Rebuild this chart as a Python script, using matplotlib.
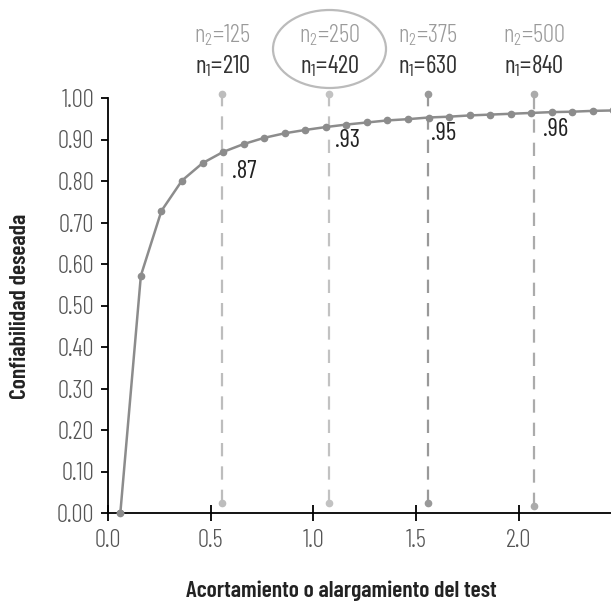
import matplotlib.pyplot as plt
from matplotlib.patches import Ellipse

plt.rcParams['font.family'] = ['Barlow Condensed', 'Liberation Sans', 'DejaVu Sans']
plt.rcParams['font.weight'] = 300
plt.rcParams['mathtext.default'] = 'regular'

# curve points
curve_x = [0.06, 0.16, 0.26, 0.36, 0.46, 0.56, 0.66, 0.76, 0.86, 0.96,
           1.06, 1.16, 1.26, 1.36, 1.46, 1.56, 1.66, 1.76, 1.86, 1.96,
           2.06, 2.16, 2.26, 2.36, 2.46, 2.56]
curve_y = [0.000, 0.572, 0.728, 0.801, 0.843, 0.870, 0.889, 0.904, 0.915, 0.923,
           0.930, 0.936, 0.941, 0.946, 0.949, 0.953, 0.955, 0.958, 0.960, 0.962,
           0.964, 0.966, 0.967, 0.969, 0.970, 0.971]

# reference lines
ref_x = [0.557, 1.077, 1.556, 2.074]
ref_bottom = [0.025, 0.025, 0.025, 0.017]
ref_top = [1.01, 1.01, 1.01, 1.01]
ref_colors = ['#bdbdbd', '#c2c2c2', '#999999', '#ababab']
n2_labels = ['125', '250', '375', '500']
n1_labels = ['210', '420', '630', '840']
value_labels = ['.87', '.93', '.95', '.96']
value_pos = [(0.603, 0.824), (1.105, 0.898), (1.572, 0.915), (2.115, 0.923)]

fig = plt.figure(figsize=(6.11, 6.03), dpi=100)
ax = fig.add_axes([108 / 611, 90 / 603, 503 / 611, 415 / 603])

for x, b, t, c in zip(ref_x, ref_bottom, ref_top, ref_colors):
    ax.plot([x, x], [b, t], color=c, lw=1.6, linestyle=(0, (6, 4.5)), zorder=1, clip_on=False)
    ax.plot([x, x], [b, t], 'o', color=c, ms=4.5, zorder=1, clip_on=False)

ax.plot(curve_x, curve_y, '-o', color='#8c8c8c', lw=1.8, ms=4.5, zorder=3, clip_on=True)
ax.plot(curve_x[0], curve_y[0], 'o', color='#8c8c8c', ms=4.5, zorder=4, clip_on=False)

for x, n2, n1 in zip(ref_x, n2_labels, n1_labels):
    ax.text(x, 1.151, r'n$_2$=' + n2, ha='center', va='center', fontsize=18,
            color='#9a9a9a', clip_on=False)
    ax.text(x, 1.077, r'n$_1$=' + n1, ha='center', va='center', fontsize=18,
            color='#333333', fontweight='normal', clip_on=False)

for (x, y), s in zip(value_pos, value_labels):
    ax.text(x, y, s, ha='left', va='center', fontsize=18, color='#222222',
            fontweight='normal')

# circle around the chosen option
ell = Ellipse((329.5 / 611, 1 - 49 / 603), 113 / 611, 78 / 603, transform=fig.transFigure,
              fill=False, edgecolor='#bbbbbb', lw=1.6)
fig.patches.append(ell)

ax.set_xlim(0, 2.448)
ax.set_ylim(0, 1.0)
ax.set_xticks([0.0, 0.5, 1.0, 1.5, 2.0])
ax.set_xticklabels(['0.0', '0.5', '1.0', '1.5', '2.0'])
ax.set_yticks([i / 10 for i in range(11)])
ax.set_yticklabels([f'{i / 10:.2f}' for i in range(11)])
ax.spines['top'].set_visible(False)
ax.spines['right'].set_visible(False)
ax.spines['left'].set_linewidth(1.3)
ax.spines['bottom'].set_linewidth(1.3)
ax.tick_params(axis='x', direction='inout', length=11, width=1.3, pad=6,
               labelsize=18, labelcolor='#555555')
ax.tick_params(axis='y', direction='out', length=5, width=1.3, pad=5,
               labelsize=18, labelcolor='#555555')

fig.text(20 / 611, 1 - 306 / 603, 'Confiabilidad deseada', rotation=90, ha='center',
         va='center', fontsize=17, fontweight=600, color='#222222')
fig.text(341 / 611, 1 - 597 / 603, 'Acortamiento o alargamiento del test', ha='center',
         va='baseline', fontsize=17, fontweight=600, color='#222222')

fig.savefig('out.png', dpi=100)
